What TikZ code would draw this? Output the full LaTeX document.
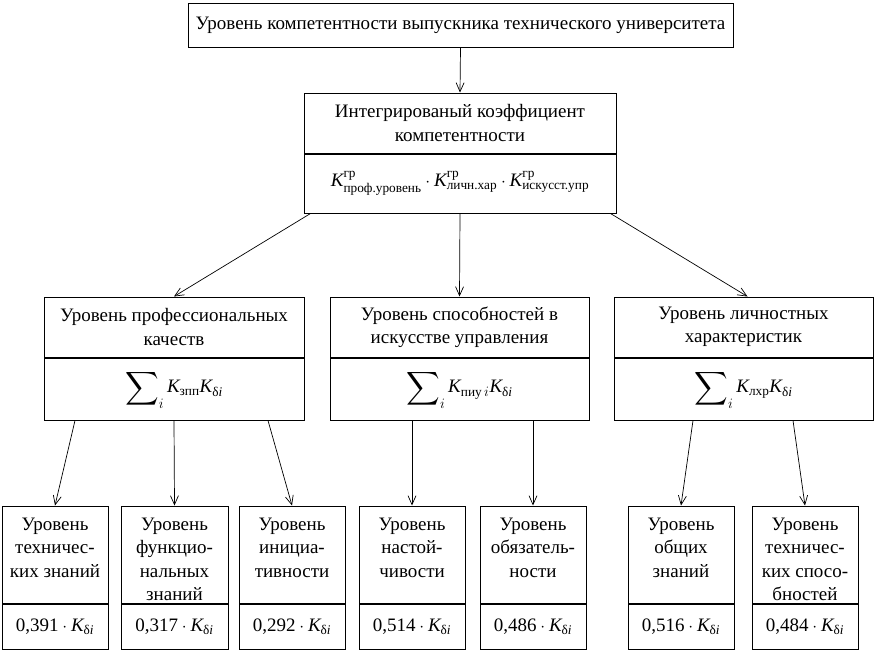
\documentclass[tikz,border=0pt]{standalone}
\usepackage{amsmath}
\usepackage{graphicx}
\usepackage{fontspec}
\setmainfont{Liberation Serif}
\usetikzlibrary{arrows.meta,calc}
\newcommand{\Kit}{\textit{K}}
\newcommand{\Sm}{\mathop{\vcenter{\hbox{\scalebox{1.35}{$\displaystyle\sum$}}}}\nolimits}
\newcommand{\btext}[2]{\parbox[c][#1pt][t]{104pt}{\centering\rule{0pt}{24pt}#2}}
\tikzset{
  box/.style={draw, line width=1pt, inner sep=0pt, font=\fontsize{19}{23.5}\selectfont, align=center},
  arr/.style={-{Straight Barb[length=9pt,width=8pt]}, line width=0.7pt}
}
\begin{document}
\begin{tikzpicture}[x=1pt,y=-1pt]
\useasboundingbox (0,0) rectangle (878,651);
% title
\node[box, minimum width=545, minimum height=44] (title) at (460.5,25)
  {Уровень компетентности выпускника технического университета};
% integrated
\node[box, minimum width=312, minimum height=60] (intA) at (460,123)
  {Интегрированый коэффициент\\компетентности};
\node[box, minimum width=312, minimum height=59, anchor=north] (intB) at (intA.south)
  {$\Kit^{\text{гр}}_{\text{проф.уровень}}\cdot \Kit^{\text{гр}}_{\text{личн.хар}}\cdot \Kit^{\text{гр}}_{\text{искусст.упр}}$};
% middle row
\node[box, minimum width=260, minimum height=60] (mLa) at (174,327)
  {Уровень профессиональных\\качеств};
\node[box, minimum width=260, minimum height=62, anchor=north] (mLb) at (mLa.south)
  {$\Sm_i \Kit_{\text{зпп}}\Kit_{\text{δ\itshape i}}$};
\node[box, minimum width=259, minimum height=60] (mMa) at (459.5,327)
  {Уровень способностей в\\искусстве управления};
\node[box, minimum width=259, minimum height=62, anchor=north] (mMb) at (mMa.south)
  {$\Sm_i \Kit_{\text{пиу}\,i}\Kit_{\text{δ\itshape i}}$};
\node[box, minimum width=259, minimum height=60] (mRa) at (743.5,327)
  {Уровень личностных\\характеристик};
\node[box, minimum width=259, minimum height=62, anchor=north] (mRb) at (mRa.south)
  {$\Sm_i \Kit_{\text{лхр}}\Kit_{\text{δ\itshape i}}$};
% bottom row
\node[box, minimum width=106, minimum height=97] (b1a) at (55,554.5)
  {\btext{97}{Уровень\\техничес-\\ких знаний}};
\node[box, minimum width=106, minimum height=45, anchor=north] (b1b) at (b1a.south)
  {$\text{0,391}\cdot \Kit_{\text{δ\itshape i}}$};
\node[box, minimum width=107, minimum height=97] (b2a) at (174.5,554.5)
  {\btext{97}{Уровень\\функцио-\\нальных\\знаний}};
\node[box, minimum width=107, minimum height=45, anchor=north] (b2b) at (b2a.south)
  {$\text{0,317}\cdot \Kit_{\text{δ\itshape i}}$};
\node[box, minimum width=106, minimum height=97] (b3a) at (292,554.5)
  {\btext{97}{Уровень\\инициа-\\тивности}};
\node[box, minimum width=106, minimum height=45, anchor=north] (b3b) at (b3a.south)
  {$\text{0,292}\cdot \Kit_{\text{δ\itshape i}}$};
\node[box, minimum width=106, minimum height=97] (b4a) at (412,554.5)
  {\btext{97}{Уровень\\настой-\\чивости}};
\node[box, minimum width=106, minimum height=45, anchor=north] (b4b) at (b4a.south)
  {$\text{0,514}\cdot \Kit_{\text{δ\itshape i}}$};
\node[box, minimum width=106, minimum height=97] (b5a) at (533,554.5)
  {\btext{97}{Уровень\\обязатель-\\ности}};
\node[box, minimum width=106, minimum height=45, anchor=north] (b5b) at (b5a.south)
  {$\text{0,486}\cdot \Kit_{\text{δ\itshape i}}$};
\node[box, minimum width=106, minimum height=97] (b6a) at (681,554.5)
  {\btext{97}{Уровень\\общих\\знаний}};
\node[box, minimum width=106, minimum height=45, anchor=north] (b6b) at (b6a.south)
  {$\text{0,516}\cdot \Kit_{\text{δ\itshape i}}$};
\node[box, minimum width=106, minimum height=97] (b7a) at (805,554.5)
  {\btext{97}{Уровень\\техничес-\\ких спосо-\\бностей}};
\node[box, minimum width=106, minimum height=45, anchor=north] (b7b) at (b7a.south)
  {$\text{0,484}\cdot \Kit_{\text{δ\itshape i}}$};
% arrows
\draw[arr] (title.south) -- (intA.north);
\draw[arr] ($(intB.south west)+(7,0)$) -- (mLa.north);
\draw[arr] (intB.south) -- (mMa.north);
\draw[arr] ($(intB.south east)+(-6,0)$) -- ($(mRa.north)+(4,0)$);
\draw[arr] ($(mLb.south)+(-99,0)$) -- (b1a.north);
\draw[arr] (mLb.south) -- (b2a.north);
\draw[arr] ($(mLb.south)+(94,0)$) -- (b3a.north);
\draw[arr] ($(mMb.south)+(-47.5,0)$) -- (b4a.north);
\draw[arr] ($(mMb.south)+(73.5,0)$) -- (b5a.north);
\draw[arr] ($(mRb.south)+(-50.5,0)$) -- (b6a.north);
\draw[arr] ($(mRb.south)+(49.5,0)$) -- (b7a.north);
\end{tikzpicture}
\end{document}
